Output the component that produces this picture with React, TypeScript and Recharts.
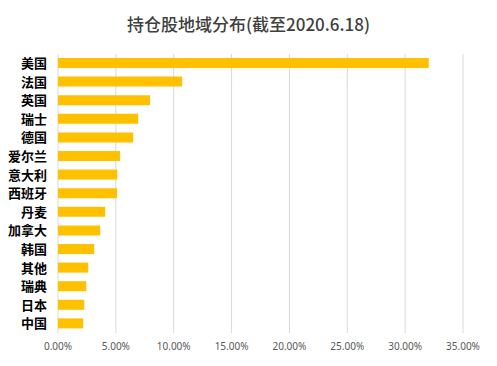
import React from 'react';
import { BarChart, Bar, XAxis, YAxis, CartesianGrid } from 'recharts';

const categories = ['美国', '法国', '英国', '瑞士', '德国', '爱尔兰', '意大利', '西班牙', '丹麦', '加拿大', '韩国', '其他', '瑞典', '日本', '中国'];
const shares = [0.3204, 0.1073, 0.0796, 0.0693, 0.065, 0.0537, 0.0512, 0.051, 0.0408, 0.0365, 0.0313, 0.0261, 0.0244, 0.0227, 0.0218];
const xTicks = [0, 0.05, 0.1, 0.15, 0.2, 0.25, 0.3, 0.35];
const title = '持仓股地域分布(截至2020.6.18)';

const data = categories.map((name, i) => ({ name, value: shares[i] }));

export default function App() {
  return (
    <div style={{ position: 'absolute', left: 0, top: 0, width: 497, height: 366, background: '#fff' }}>
      <div
        style={{
          position: 'absolute',
          left: 0,
          top: 12,
          width: 497,
          textAlign: 'center',
          fontFamily: '"Noto Sans CJK SC", sans-serif',
          fontSize: 17,
          fontWeight: 500,
          color: '#404040',
          lineHeight: '24px',
        }}
      >
        {title}
      </div>
      <BarChart
        width={497}
        height={366}
        data={data}
        layout="vertical"
        margin={{ top: 54, right: 34, bottom: 3, left: 0 }}
      >
        <CartesianGrid horizontal={false} vertical={true} stroke="#d9d9d9" strokeWidth={1} />
        <XAxis
          type="number"
          domain={[0, 0.35]}
          ticks={xTicks}
          interval={0}
          axisLine={false}
          tickLine={false}
          tickMargin={4}
          height={30}
          tickFormatter={(v: number) => (v * 100).toFixed(2) + '%'}
          tick={{ fontSize: 10, fill: '#595959', fontFamily: '"Noto Sans", sans-serif' }}
        />
        <YAxis
          type="category"
          dataKey="name"
          width={58}
          interval={0}
          axisLine={false}
          tickLine={false}
          tickMargin={5}
          tick={{ fontSize: 13, fill: '#000', fontWeight: 'bold', fontFamily: '"Noto Sans CJK SC", sans-serif' }}
        />
        <Bar dataKey="value" fill="#FFC000" barSize={10} isAnimationActive={false} />
      </BarChart>
    </div>
  );
}
